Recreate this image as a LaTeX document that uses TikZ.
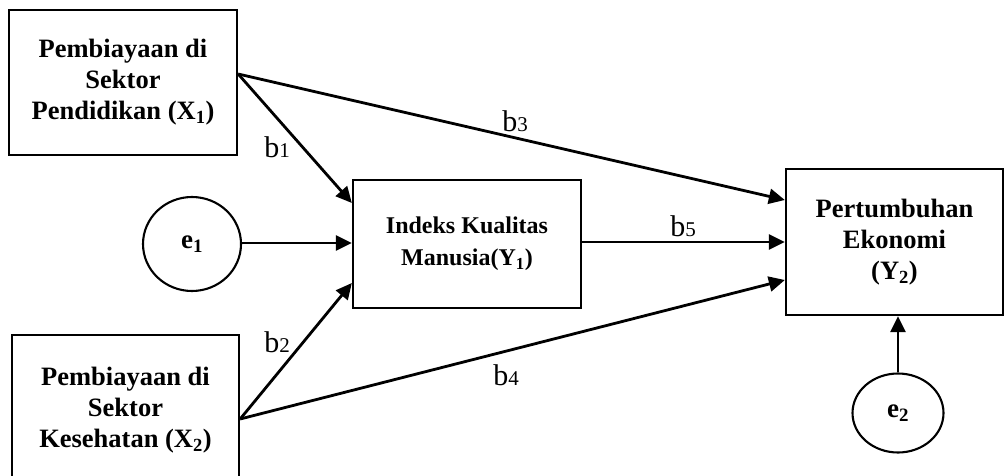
\documentclass[tikz,border=0pt]{standalone}
\usepackage{fontspec}
\setmainfont{Liberation Serif}
\usetikzlibrary{arrows.meta,shapes.geometric}
\newcommand\blab[1]{{\fontsize{30}{30}\selectfont b\fontsize{21}{21}\selectfont #1}}
\begin{document}
\begin{tikzpicture}[x=1pt,y=-1pt,
  boxnode/.style={draw,line width=2.3pt,rectangle,inner sep=0pt,align=center,
    font=\fontsize{26.5}{31}\selectfont\bfseries},
  errnode/.style={draw,line width=2.1pt,ellipse,inner sep=0pt,
    font=\fontsize{27}{31}\selectfont\bfseries},
  arr/.style={line width=2.8pt,-{Triangle[length=16pt,width=15pt]}},
  lab/.style={inner sep=0pt,anchor=center}]
\useasboundingbox (0,0) rectangle (1004,476);
\node[boxnode,minimum width=228pt,minimum height=145pt] (X1) at (123,82.5)
  {Pembiayaan di\\Sektor\\Pendidikan (X\textsubscript{1})};
\node[boxnode,minimum width=227pt,minimum height=150pt] (X2) at (125.5,410)
  {Pembiayaan di\\Sektor\\Kesehatan (X\textsubscript{2})};
\node[boxnode,minimum width=228pt,minimum height=128pt,
  font=\fontsize{24}{32}\selectfont\bfseries] (Y1) at (467,244)
  {Indeks Kualitas\\Manusia(Y\textsubscript{1})};
\node[boxnode,minimum width=217pt,minimum height=146pt] (Y2) at (894.5,242)
  {Pertumbuhan\\Ekonomi\\(Y\textsubscript{2})};
\node[errnode,minimum width=98pt,minimum height=94pt] (e1) at (192,244) {e\textsubscript{1}};
\node[errnode,minimum width=91pt,minimum height=79pt] (e2) at (898,413) {e\textsubscript{2}};

\draw[arr] ([yshift=8.5pt]X1.east) -- ([yshift=41pt]Y1.west);
\draw[arr] ([yshift=8.5pt]X1.east) -- ([yshift=42pt]Y2.west);
\draw[arr] ([yshift=1pt]e1.east) -- ([yshift=1pt]Y1.west);
\draw[arr] ([yshift=-9pt]X2.east) -- ([yshift=-39pt]Y1.west);
\draw[arr] ([yshift=-9pt]X2.east) -- ([yshift=-38pt]Y2.west);
\draw[arr] ([yshift=2pt]Y1.east) -- (Y2.west);
\draw[arr] (e2.north) -- (e2.north |- Y2.south);

\node[lab] (l1) at (277,147) {\blab{1}};
\node[lab] (l2) at (277,342) {\blab{2}};
\node[lab] (l3) at (515,121) {\blab{3}};
\node[lab] (l4) at (506,375) {\blab{4}};
\node[lab] (l5) at (683,226) {\blab{5}};
\end{tikzpicture}
\end{document}
